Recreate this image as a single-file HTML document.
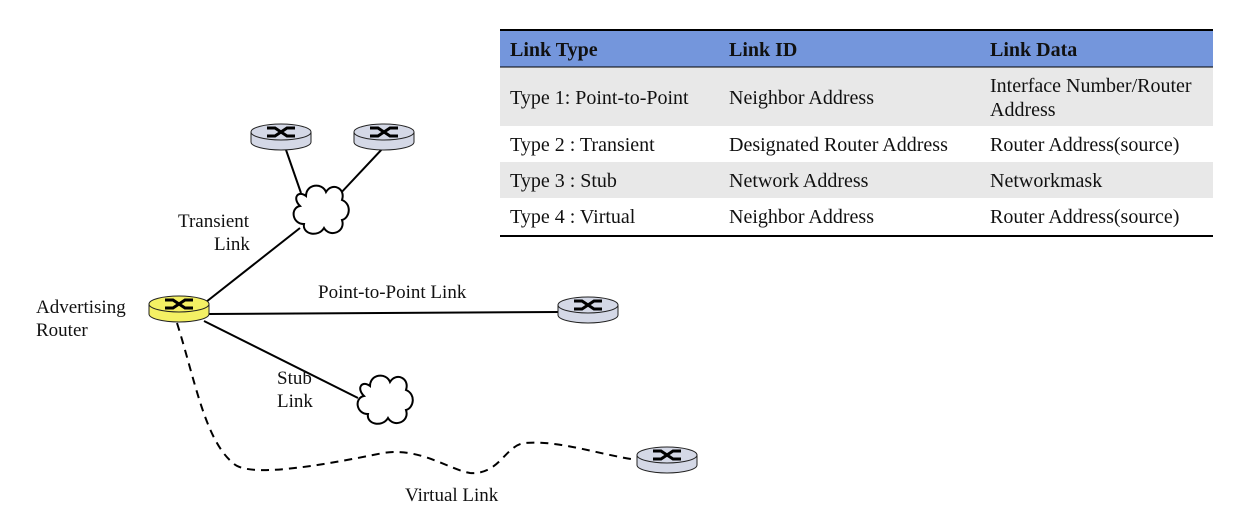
<!DOCTYPE html>
<html><head><meta charset="utf-8"><style>
html,body{margin:0;padding:0;background:#fff;font-family:"Liberation Serif","DejaVu Serif",serif;}
svg{display:block;}
svg text{font-family:"Liberation Serif","DejaVu Serif",serif;}
</style></head><body>
<svg width="1240" height="516" viewBox="0 0 1240 516" xmlns="http://www.w3.org/2000/svg" font-family="Liberation Serif, serif">
<defs>
<g id="rt">
<path d="M-30,0 L-30,10 A30,8 0 0 0 30,10 L30,0 Z" stroke="#222" stroke-width="1"/>
<ellipse cx="0" cy="0" rx="30" ry="8" stroke="#222" stroke-width="1"/>
<path d="M-14,-4 L-6,-4 L6,4 L14,4 M-14,4 L-6,4 L6,-4 L14,-4" stroke="#000" stroke-width="3" fill="none"/>
</g>
<path id="cl" d="M-14,-14 C-14,-26 2,-28 6,-18 C12,-28 26,-22 22,-10 C32,-6 30,8 22,10 C26,22 10,28 4,18 C-2,28 -18,24 -16,14 C-28,14 -30,-2 -20,-4 C-28,-12 -22,-20 -14,-14 Z" fill="#fff" stroke="#000" stroke-width="2"/>
</defs>
<rect x="500" y="31" width="713" height="36" fill="#7496dc"/>
<rect x="500" y="67" width="713" height="59" fill="#e8e8e8"/>
<rect x="500" y="162" width="713" height="36" fill="#e8e8e8"/>
<line x1="500" y1="30" x2="1213" y2="30" stroke="#000" stroke-width="2"/>
<line x1="500" y1="67" x2="1213" y2="67" stroke="#000" stroke-width="1"/>
<line x1="500" y1="236" x2="1213" y2="236" stroke="#000" stroke-width="2"/>
<g font-size="20" fill="#111">
<g font-weight="bold"><text x="510" y="56">Link Type</text><text x="729" y="56">Link ID</text><text x="990" y="56">Link Data</text></g>
<text x="510" y="104">Type 1: Point-to-Point</text><text x="729" y="104">Neighbor Address</text>
<text x="990" y="92">Interface Number/Router</text><text x="990" y="116">Address</text>
<text x="510" y="151">Type 2 : Transient</text><text x="729" y="151">Designated Router Address</text><text x="990" y="151">Router Address(source)</text>
<text x="510" y="187">Type 3 : Stub</text><text x="729" y="187">Network Address</text><text x="990" y="187">Networkmask</text>
<text x="510" y="223">Type 4 : Virtual</text><text x="729" y="223">Neighbor Address</text><text x="990" y="223">Router Address(source)</text>
</g>
<g stroke="#000" stroke-width="2" fill="none">
<line x1="285" y1="147" x2="301" y2="193"/>
<line x1="384" y1="147" x2="338" y2="196"/>
<line x1="300" y1="228" x2="206" y2="302"/>
<line x1="208" y1="314" x2="560" y2="312"/>
<line x1="204" y1="321" x2="358" y2="398"/>
<path d="M177,323 C195,380 205,440 233,463 C245,475 290,472 383,453 C420,447 450,470 470,473 C500,475 505,445 525,443 C560,440 600,455 638,460" stroke-dasharray="8,6"/>
</g>
<use href="#cl" x="320" y="210"/>
<use href="#cl" x="384" y="400"/>
<use href="#rt" x="281" y="132" fill="#d4d8e6"/>
<use href="#rt" x="384" y="132" fill="#d4d8e6"/>
<use href="#rt" x="179" y="304" fill="#f4f064"/>
<use href="#rt" x="588" y="305" fill="#d4d8e6"/>
<use href="#rt" x="667" y="455" fill="#d4d8e6"/>
<g font-size="19" fill="#111">
<text x="178" y="227">Transient</text><text x="214" y="250">Link</text>
<text x="36" y="313">Advertising</text><text x="36" y="336">Router</text>
<text x="318" y="298">Point-to-Point Link</text>
<text x="277" y="384">Stub</text><text x="277" y="407">Link</text>
<text x="405" y="501">Virtual Link</text>
</g>
</svg>
</body></html>
